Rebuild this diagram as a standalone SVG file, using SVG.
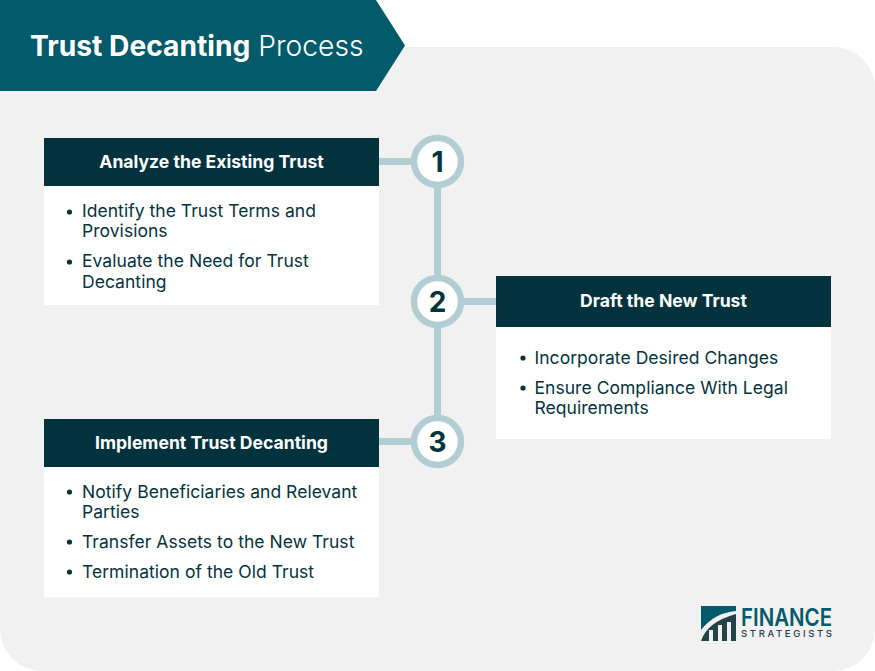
<svg xmlns="http://www.w3.org/2000/svg" width="875" height="671" viewBox="0 0 875 671">
<style>
text{font-family:Inter,"Liberation Sans",sans-serif}
.h{fill:#fff;font-size:17.6px;font-weight:700;text-anchor:middle}
.b{fill:#04323d;font-size:17.5px;letter-spacing:.04px}
.n{fill:#04323d;font-size:28px;font-weight:700;text-anchor:middle}
.hb{fill:#02323e}
.c{fill:#fff;stroke:#b2ced4;stroke-width:6.5}
.l{stroke:#b2ced4;stroke-width:7;fill:none}
.d{fill:#04323d}
</style>
<rect width="875" height="671" fill="#fff"/>
<rect x="0" y="47" width="875" height="624" rx="42" fill="#f1f1f1"/>
<g id="title"><polygon points="0,0 376,0 405,45.500 376,91 0,91" fill="#035a6a"/>
<text x="30" y="55.500" font-size="28.200" fill="#fff"><tspan font-weight="700">Trust Decanting</tspan> <tspan font-weight="300">Process</tspan></text></g>
<g id="connectors"><path class="l" d="M379 161.500H437.500V441.500M437.500 301.500H496M379 441.500H437.500"/></g>
<g id="node-1"><rect x="44" y="186" width="335" height="119" fill="#fff"/><rect class="hb" x="44" y="138" width="335" height="48"/>
<text class="h" x="211.500" y="167.500">Analyze the Existing Trust</text>
<circle class="d" cx="69.500" cy="212" r="2.600"/><text class="b" x="82" y="217">Identify the Trust Terms and</text><text class="b" x="82" y="237">Provisions</text>
<circle class="d" cx="69.500" cy="262" r="2.600"/><text class="b" x="82" y="267">Evaluate the Need for Trust</text><text class="b" x="82" y="288">Decanting</text></g>
<g id="step-1"><circle class="c" cx="437.500" cy="161.500" r="23.500"/><text class="n" x="437.500" y="171.500">1</text></g>
<g id="step-2"><circle class="c" cx="437.500" cy="301.500" r="23.500"/><text class="n" x="437.500" y="311.500">2</text></g>
<g id="step-3"><circle class="c" cx="437.500" cy="441.500" r="23.500"/><text class="n" x="437.500" y="451.500">3</text></g>
<g id="node-2"><rect x="496" y="327" width="335" height="112" fill="#fff"/><rect class="hb" x="496" y="276" width="335" height="51"/>
<text class="h" x="663.500" y="307">Draft the New Trust</text>
<circle class="d" cx="523" cy="358" r="2.600"/><text class="b" x="534.500" y="364">Incorporate Desired Changes</text>
<circle class="d" cx="523" cy="388" r="2.600"/><text class="b" x="534.500" y="394">Ensure Compliance With Legal</text><text class="b" x="534.500" y="414">Requirements</text></g>
<g id="node-3"><rect x="44" y="467" width="335" height="130" fill="#fff"/><rect class="hb" x="44" y="419" width="335" height="48"/>
<text class="h" x="211.500" y="449">Implement Trust Decanting</text>
<circle class="d" cx="69.500" cy="492" r="2.600"/><text class="b" x="82" y="498">Notify Beneficiaries and Relevant</text><text class="b" x="82" y="518">Parties</text>
<circle class="d" cx="69.500" cy="542" r="2.600"/><text class="b" x="82" y="548">Transfer Assets to the New Trust</text>
<circle class="d" cx="69.500" cy="572" r="2.600"/><text class="b" x="82" y="578">Termination of the Old Trust</text></g>
<g id="logo">
<path d="M701 606H736V611Q714 613 701 630Z" fill="#035a6a"/>
<path d="M701 641Q707 622 736 614V641H731V622H727V641H722V625H718V641H713V630H709V641Z" fill="#23424a"/>
<text x="741" y="626" font-size="24" font-weight="600" fill="#035a6a" textLength="91" lengthAdjust="spacingAndGlyphs">FINANCE</text>
<text x="741" y="637" font-size="9.500" font-weight="500" fill="#23424a" textLength="91">STRATEGISTS</text>
</g>
</svg>
